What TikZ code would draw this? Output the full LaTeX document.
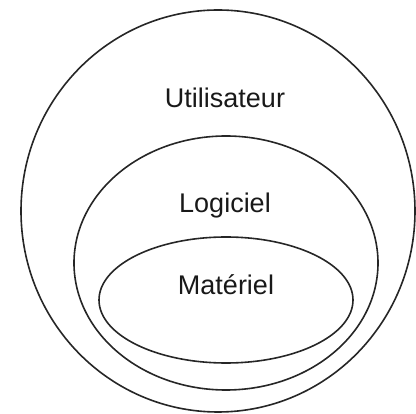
\documentclass[tikz,border=0pt]{standalone}
\usepackage{fontspec}
\setmainfont{Liberation Sans}
\usetikzlibrary{positioning}

\begin{document}
\begin{tikzpicture}[x=1pt,y=-1pt,
  layer/.style={draw=black!85,line width=1.6pt},
  layername/.style={font=\fontsize{27}{30}\selectfont,text=black!90,inner sep=0pt,anchor=base}]
\useasboundingbox (0,0) rectangle (416,414);
% couches
\draw[layer] (218,211) ellipse [x radius=197,y radius=201];
\draw[layer] (226,263) ellipse [x radius=152,y radius=127];
\draw[layer] (226,300) ellipse [x radius=127,y radius=63];
% noms
\node[layername] (user) at (225,108) {Utilisateur};
\node[layername] (soft) at (225,213) {Logiciel};
\node[layername] (hard) at (226,295) {Matériel};
\end{tikzpicture}
\end{document}
